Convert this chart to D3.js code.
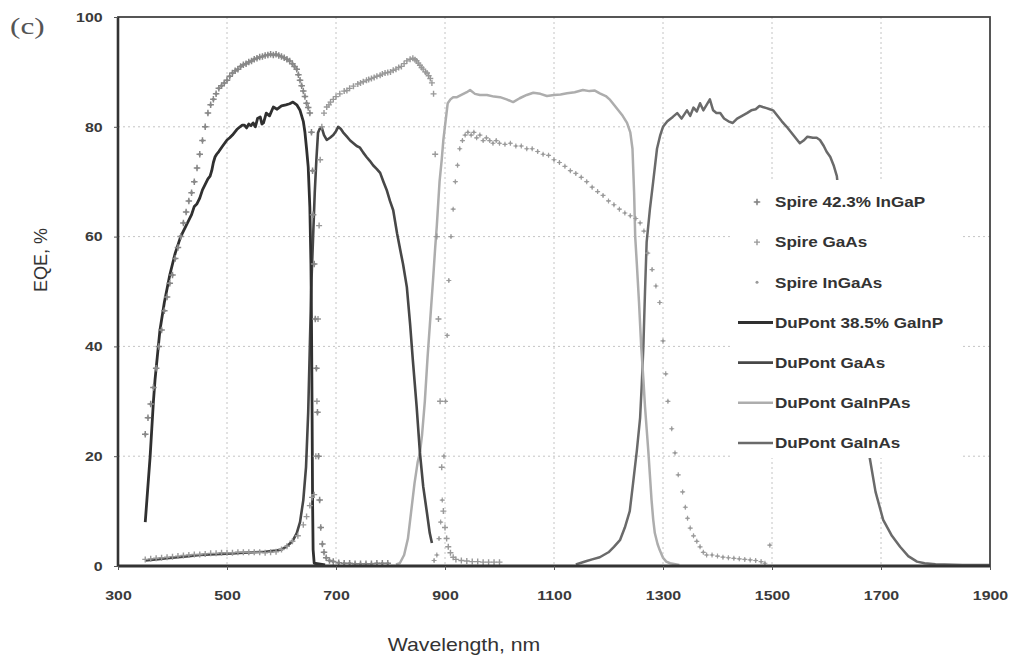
<!DOCTYPE html>
<html><head><meta charset="utf-8">
<script src="https://cdn.jsdelivr.net/npm/d3@7"></script>
<style>body{margin:0;background:#fff}svg{display:block}</style>
</head><body><svg id="c" width="1018" height="660"></svg>
<script>
// ---- data (wavelength nm, EQE %) ----
const xTicks = [300,500,700,900,1100,1300,1500,1700,1900];
const yTicks = [0,20,40,60,80,100];

const spireInGaP = [[350,24],[355,27],[360,29.5],[365,32.5],[370,36],[375,40],[380,43],[385,46.5],[390,49],[395,51.5],[400,53],[405,56],[410,58],[415,60],[420,62.5],[425,64.5],[430,66.5],[435,68],[440,70],[445,72.5],[450,75],[455,77.5],[460,80],[465,82.5],[470,84],[475,85],[480,86],[485,87],[490,87.5],[495,88],[500,88.5],[505,89.2],[510,89.8],[515,90.2],[520,90.5],[525,91],[530,91.3],[535,91.5],[540,91.8],[545,92],[550,92.3],[555,92.5],[560,92.7],[565,92.8],[570,93],[575,93.1],[580,93.2],[585,93.1],[590,93.2],[595,93],[600,92.8],[605,92.6],[610,92.3],[615,92],[620,91.5],[624,91],[628,90.5],[631,89.5],[634,88.5],[637,87.5],[640,86.5],[643,85.5],[646,84.3],[649,83.5],[652,82.5],[655,79],[657,72],[658,64],[660,55],[662,45],[664,36],[666,28],[668,20],[670,12],[672,7],[675,4],[678,2.5],[682,1.5],[688,1],[695,0.8],[705,0.6],[715,0.5],[725,0.5],[735,0.4],[745,0.4],[755,0.4],[765,0.4],[775,0.5],[785,0.5],[795,0.5]];

const spireGaAs = [[350,1.2],[360,1.3],[370,1.4],[380,1.5],[390,1.6],[400,1.7],[410,1.8],[420,1.9],[430,2],[440,2.1],[450,2.1],[460,2.2],[470,2.3],[480,2.3],[490,2.4],[500,2.4],[510,2.4],[520,2.5],[530,2.5],[540,2.5],[550,2.5],[560,2.5],[570,2.4],[580,2.5],[590,2.6],[600,3],[610,3.6],[620,4.5],[630,5.5],[640,7.5],[646,9],[652,11],[656,12.5],[660,13],[663,20],[665,30],[667,45],[669,62],[671,74],[674,80],[678,82.5],[683,83.6],[687,84],[690,84.5],[695,85],[700,85.5],[707,86],[715,86.5],[720,86.6],[725,87],[732,87.4],[740,87.8],[745,88],[750,88.2],[756,88.5],[760,88.6],[765,88.8],[770,89],[775,89.2],[781,89.4],[785,89.6],[790,89.8],[795,89.9],[800,90],[805,90.3],[810,90.5],[815,90.8],[820,91],[825,91.5],[830,92],[836,92.3],[841,92.5],[845,92.2],[848,92],[851,91.6],[854,91.2],[857,90.8],[860,90.5],[864,90],[867,89.8],[870,89.3],[873,88.8],[876,88],[879,86],[882,75],[885,60],[888,45],[891,30],[894,18],[897,10],[900,7],[903,5],[906,3.5],[910,2.4],[915,1.6],[920,1.2],[930,1],[940,0.9],[950,0.8],[960,0.8],[970,0.7],[980,0.7],[990,0.7],[1000,0.7]];

const spireInGaAs = [[880,1],[885,2],[889,5],[892,8],[895,12],[898,20],[901,30],[904,42],[907,52],[911,60],[915,65],[919,70],[923,73],[927,76],[932,77.5],[937,78.5],[942,79],[948,78.5],[953,79],[958,78],[964,78.5],[970,77.5],[976,78],[982,77.5],[988,77],[994,77.5],[1000,77],[1010,76.8],[1020,77],[1030,76.5],[1040,76.5],[1050,76],[1060,76],[1070,75.5],[1080,75],[1090,74.8],[1100,74],[1110,73.5],[1120,72.8],[1130,72],[1140,71.5],[1150,70.8],[1160,70],[1170,69],[1180,68.2],[1190,67.5],[1200,66.5],[1210,65.8],[1220,65],[1230,64.3],[1240,63.8],[1250,63.3],[1258,62.5],[1265,61],[1272,57],[1280,54],[1287,51],[1294,48],[1300,41],[1305,35],[1309,30],[1316,25],[1322,20.6],[1328,16.6],[1336,13.5],[1341,10.7],[1345,8.7],[1350,6.9],[1356,5.5],[1362,4.5],[1368,3.5],[1374,2.5],[1380,2],[1390,2],[1400,1.8],[1410,1.6],[1420,1.5],[1430,1.4],[1440,1.3],[1450,1.2],[1460,1.1],[1470,1],[1480,0.8],[1487,0.5],[1496,3.8]];

const dupontGaInP = [[350,8],[353,12],[356,16],[359,20],[362,25],[365,30],[368,34],[372,38],[377,43],[385,48],[395,53],[405,57],[415,60],[425,62],[435,64],[440,65.5],[445,66],[450,67],[455,68.5],[460,69.5],[465,70.5],[469,71],[472,72],[475,73.5],[478,74.5],[481,75],[485,75.5],[492,76.5],[500,77.6],[505,78],[510,78.5],[514,79],[518,79.5],[524,80],[528,80.3],[532,80.3],[536,79.8],[540,80.5],[544,80.2],[548,80.7],[552,80],[556,81.5],[561,81.8],[564,80.5],[567,80.7],[572,82.5],[578,82],[585,83.6],[592,83.2],[600,83.8],[608,84],[615,84.2],[621,84.5],[628,84],[634,83],[640,81],[643,79],[646,76],[649,72.7],[652,65.4],[654,55],[655,45],[656,30],[657,12],[658,3],[660,0.5],[680,0.2]];

const dupontGaAs = [[350,1],[370,1.2],[390,1.4],[410,1.6],[430,1.8],[450,2],[470,2.1],[490,2.2],[510,2.3],[530,2.4],[550,2.5],[570,2.6],[590,2.8],[600,3],[610,3.6],[620,4.5],[628,6],[634,8],[640,12],[645,18],[649,28],[652,40],[655,52],[658,60],[661,68],[664,74],[667,78.9],[670,79.6],[674,79.8],[678,78.5],[683,77.6],[689,78],[695,78.5],[700,79.2],[704,80],[709,79.6],[713,79],[720,78.2],[726,77.5],[732,77],[738,76.5],[744,76.2],[750,75.3],[756,74.5],[762,73.8],[768,73],[775,72.3],[781,71.6],[787,70],[793,68.5],[799,66.5],[805,64.8],[812,60.6],[818,57.5],[823,55],[830,50.8],[836,44],[841,37.5],[848,29],[854,20.6],[860,14.5],[867,9.6],[872,6],[876,4.2]];

const dupontGaInPAs = [[810,0.3],[817,0.5],[825,2],[832,5],[838,10],[844,15],[850,19],[854,20.6],[858,24],[863,30],[868,38],[873,45],[878,52],[882,58],[885,62],[890,70],[894,74],[897,77.6],[901,81],[905,84.3],[910,85],[915,85.4],[922,85.4],[930,85.8],[940,86.3],[946,86.7],[955,86],[964,85.8],[977,85.8],[990,85.5],[1001,85.4],[1013,85],[1025,84.5],[1037,85.2],[1050,85.8],[1062,86.2],[1075,86],[1087,85.6],[1100,85.8],[1112,85.9],[1124,86.1],[1138,86.3],[1153,86.7],[1165,86.5],[1175,86.6],[1184,86.1],[1195,85.6],[1203,84.9],[1210,84],[1218,83],[1226,82],[1234,80.7],[1240,79],[1244,76],[1247,68],[1249,60],[1252,55],[1256,48],[1260,40],[1264,34],[1267,29],[1270,25],[1273,21],[1276,16.5],[1279,12],[1282,8.5],[1285,6],[1290,4],[1294,2.9],[1300,1.5],[1306,0.8],[1313,0.5],[1330,0.2]];

const dupontGaInAs = [[1140,0.3],[1150,0.6],[1160,0.9],[1170,1.2],[1184,1.6],[1200,2.5],[1210,3.5],[1221,4.7],[1230,7],[1239,10],[1245,15],[1252,21],[1258,27],[1261,33],[1264,40],[1267,50],[1270,59],[1276,65],[1282,70],[1289,76],[1295,78.5],[1300,80],[1308,81],[1318,81.8],[1326,82.5],[1334,81.5],[1344,83],[1350,82],[1356,83.5],[1362,82.8],[1368,84.3],[1374,83],[1380,84],[1386,85],[1392,83],[1398,82.5],[1405,82.5],[1412,81.5],[1420,81],[1428,80.7],[1436,81.5],[1445,82],[1454,82.5],[1462,83],[1470,83.2],[1477,83.8],[1483,83.6],[1490,83.4],[1496,83.2],[1502,83],[1510,82],[1518,81],[1527,80],[1535,79],[1543,78],[1551,77],[1558,77.5],[1565,78.2],[1575,78],[1582,78],[1588,77.6],[1595,76.5],[1600,75.5],[1607,74.5],[1613,73],[1619,71],[1630,60],[1645,45],[1660,32],[1672,24],[1680,19.3],[1690,13.5],[1704,8.4],[1720,5.5],[1735,3.5],[1750,1.8],[1766,0.8],[1780,0.5],[1800,0.3],[1850,0.2],[1900,0.2]];

const legendLabels = ["Spire 42.3% InGaP","Spire GaAs","Spire InGaAs","DuPont 38.5% GaInP","DuPont GaAs","DuPont GaInPAs","DuPont GaInAs"];

// ---- drawing ----
const svg = d3.select("#c");
const x = d3.scaleLinear().domain([300,1900]).range([118,990]);
const y = d3.scaleLinear().domain([0,100]).range([566,17]);
const font = "'Liberation Sans', Arial, sans-serif";
const SX = 1.18; // horizontal stretch of the scanned text

// grid
const g = svg.append("g");
g.selectAll(".vg").data(xTicks.slice(1,-1)).join("line")
  .attr("x1",d=>x(d)).attr("x2",d=>x(d)).attr("y1",y(100)).attr("y2",y(0))
  .attr("stroke","#c4c4c4").attr("stroke-width",1).attr("stroke-dasharray","2,3");
g.selectAll(".hg").data(yTicks.slice(1,-1)).join("line")
  .attr("x1",x(300)).attr("x2",x(1900)).attr("y1",d=>y(d)).attr("y2",d=>y(d))
  .attr("stroke","#c4c4c4").attr("stroke-width",1).attr("stroke-dasharray","2,3");

// DuPont lines
const line = d3.line().x(d=>x(d[0])).y(d=>y(d[1]));
const lines = [
  {data:dupontGaInAs, color:"#6a6a6a", w:2.5},
  {data:dupontGaInPAs, color:"#adadad", w:2.5},
  {data:dupontGaAs, color:"#474747", w:2.6},
  {data:dupontGaInP, color:"#303030", w:2.8}
];
lines.forEach(s=>{
  svg.append("path").datum(s.data).attr("d",line).attr("fill","none")
    .attr("stroke",s.color).attr("stroke-width",s.w).attr("stroke-linejoin","round");
});

// Spire markers
function plus(sel, data, size, color, sw){
  const h=size/2;
  sel.selectAll(null).data(data).join("path")
    .attr("d",d=>`M${x(d[0])-h},${y(d[1])}h${size}M${x(d[0])},${y(d[1])-h}v${size}`)
    .attr("stroke",color).attr("stroke-width",sw).attr("fill","none");
}
const mg = svg.append("g");
plus(mg, spireGaAs, 6, "#999", 1.4);
plus(mg, spireInGaP, 6.5, "#888", 1.5);
mg.selectAll(null).data(spireInGaP).join("circle").attr("cx",d=>x(d[0])).attr("cy",d=>y(d[1])).attr("r",1.6).attr("fill","#888");
plus(mg, spireInGaAs, 5, "#a0a0a0", 1.2);
mg.selectAll(null).data(spireInGaAs).join("circle").attr("cx",d=>x(d[0])).attr("cy",d=>y(d[1])).attr("r",1.2).attr("fill","#999");

// axes / frame
svg.append("rect").attr("x",x(300)).attr("y",y(100)).attr("width",x(1900)-x(300)).attr("height",y(0)-y(100))
  .attr("fill","none").attr("stroke","#444").attr("stroke-width",1.8);
svg.append("line").attr("x1",x(300)).attr("x2",x(300)).attr("y1",y(100)).attr("y2",y(0)).attr("stroke","#333").attr("stroke-width",2.6);
svg.append("line").attr("x1",x(300)).attr("x2",x(1900)).attr("y1",y(0)).attr("y2",y(0)).attr("stroke","#333").attr("stroke-width",2.8);

const xAxis = d3.axisBottom(x).tickValues(xTicks).tickSize(4).tickFormat(d3.format("d"));
const xa = svg.append("g").attr("transform",`translate(0,${y(0)})`).call(xAxis);
xa.select(".domain").remove();
xa.selectAll(".tick line").attr("stroke","#555");
xa.selectAll("text").attr("font-family",font).attr("font-size",13.5).attr("font-weight","bold").attr("fill","#3a3a3a")
  .attr("y",24).attr("dy","0.71em").attr("transform",`scale(${SX},1)`);

const yAxis = d3.axisLeft(y).tickValues(yTicks).tickSize(4);
const ya = svg.append("g").attr("transform",`translate(${x(300)},0)`).call(yAxis);
ya.select(".domain").remove();
ya.selectAll(".tick line").attr("stroke","#555");
ya.selectAll("text").attr("font-family",font).attr("font-size",13.5).attr("font-weight","bold").attr("fill","#3a3a3a")
  .attr("x",-13).attr("transform",`scale(${SX},1)`);

// axis titles
svg.append("text").attr("transform",`translate(464,651) scale(${SX},1)`).attr("text-anchor","middle")
  .attr("font-family",font).attr("font-size",18).attr("fill","#333").text("Wavelength, nm");
svg.append("text").attr("transform","translate(47,260) rotate(-90)").attr("text-anchor","middle")
  .attr("font-family",font).attr("font-size",18).attr("fill","#333").text("EQE, %");
svg.append("text").attr("transform","translate(10,34) scale(1.3,1)").attr("font-family","'Liberation Serif', 'DejaVu Serif', serif")
  .attr("font-size",24).attr("fill","#555").text("(c)");

// legend
const lg = svg.append("g");
lg.append("rect").attr("x",730).attr("y",180).attr("width",232).attr("height",278).attr("fill","#fff");
const rowY = d3.scalePoint().domain(legendLabels).range([202,443]);
legendLabels.forEach((lab,i)=>{
  const yy = rowY(lab);
  if(i===0){ plus(lg,[[x.invert(757),y.invert(yy)]],6.5,"#888",1.5);
             lg.append("circle").attr("cx",757).attr("cy",yy).attr("r",1.6).attr("fill","#888"); }
  if(i===1){ plus(lg,[[x.invert(757),y.invert(yy)]],6,"#999",1.4); }
  if(i===2){ lg.append("circle").attr("cx",757).attr("cy",yy).attr("r",1.5).attr("fill","#999"); }
  if(i>=3){ const s = lines[6-i]; lg.append("line").attr("x1",738).attr("x2",773).attr("y1",yy).attr("y2",yy)
      .attr("stroke",s.color).attr("stroke-width",s.w); }
  lg.append("text").attr("transform",`translate(775,${yy}) scale(${SX},1)`).attr("dy","0.36em").attr("font-family",font)
    .attr("font-size",14.5).attr("font-weight","bold").attr("fill","#333").text(lab);
});
</script></body></html>
